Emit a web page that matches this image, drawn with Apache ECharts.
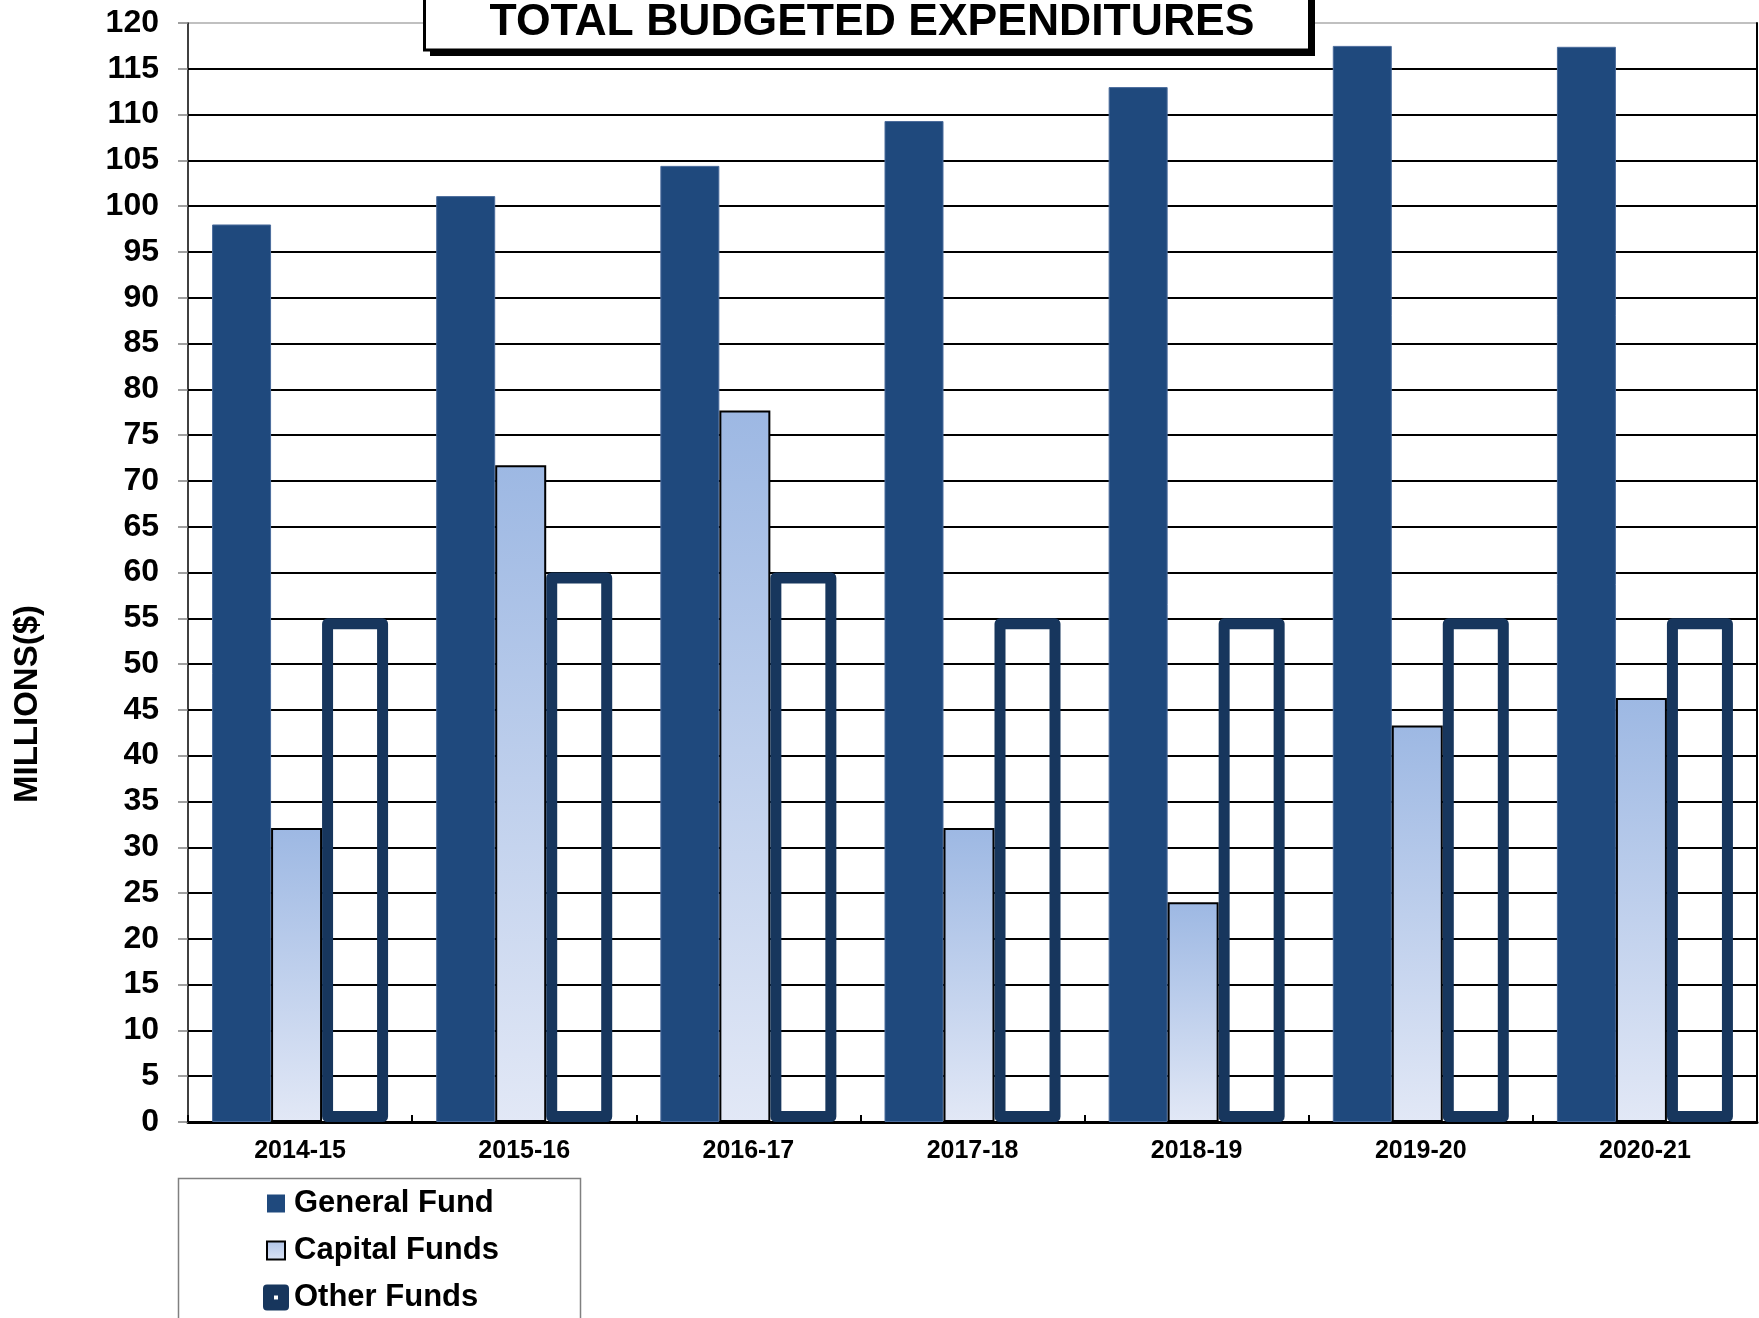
<!DOCTYPE html>
<html>
<head>
<meta charset="utf-8">
<script src="https://cdn.jsdelivr.net/npm/echarts@6/dist/echarts.min.js"></script>
<style>
html,body{margin:0;padding:0;background:#fff;}
#chart{width:1759px;height:1318px;}
</style>
</head>
<body>
<div id="chart"></div>
<script>
// ---- data ----
var categories = ['2014-15', '2015-16', '2016-17', '2017-18', '2018-19', '2019-20', '2020-21'];
var generalFund = [98.0, 101.1, 104.4, 109.3, 113.0, 117.5, 117.4];
var capitalFunds = [32.1, 71.7, 77.7, 32.1, 24.0, 43.3, 46.3];
var otherFunds = [55, 60, 60, 55, 55, 55, 55];
var seriesNames = ['General Fund', 'Capital Funds', 'Other Funds'];
var titleText = 'TOTAL BUDGETED EXPENDITURES';
var yAxisTitle = 'MILLIONS($)';
var yMin = 0, yMax = 120, yStep = 5;

var FONT = '"Liberation Sans", Arial, Helvetica, sans-serif';
var gridColors = [];
for (var v = yMin; v <= yMax; v += yStep) gridColors.push(v === yMax ? '#c0c0c0' : '#000000');

var capGradient = new echarts.graphic.LinearGradient(0, 0, 0, 1, [
  {offset: 0, color: '#9db8e3'},
  {offset: 1, color: '#e2e8f6'}
]);
var capGradientIcon = new echarts.graphic.LinearGradient(0, 0, 0, 1, [
  {offset: 0, color: '#a8bfe6'},
  {offset: 1, color: '#e2e8f6'}
]);

var chart = echarts.init(document.getElementById('chart'), null, {renderer: 'canvas'});
var option = {
  backgroundColor: '#ffffff',
  animation: false,
  textStyle: {fontFamily: FONT},
  grid: {left: 188, right: 2, top: 23, bottom: 196, containLabel: false},
  legend: {
    orient: 'vertical',
    left: 262,
    top: 1188,
    height: 200,
    padding: 0,
    itemWidth: 26,
    itemHeight: 26,
    itemGap: 16,
    selectedMode: false,
    textStyle: {fontSize: 31, fontWeight: 'bold', color: '#000', fontFamily: FONT, lineHeight: 30},
    data: [
      {name: seriesNames[0], icon: 'path://M0,0M26,26M4,4L22,4L22,22L4,22Z',
        itemStyle: {color: '#1f497d', borderWidth: 0}},
      {name: seriesNames[1], icon: 'path://M0,0M26,26M4,4L22,4L22,22L4,22Z',
        itemStyle: {color: capGradientIcon, borderColor: '#000', borderWidth: 2}},
      {name: seriesNames[2], icon: 'path://M4,0L22,0Q26,0 26,4L26,22Q26,26 22,26L4,26Q0,26 0,22L0,4Q0,0 4,0ZM11,11L11,15L15,15L15,11Z',
        itemStyle: {color: '#17365d', borderWidth: 0}}
    ]
  },
  xAxis: {
    type: 'category',
    data: categories,
    axisLine: {show: true, lineStyle: {color: '#000', width: 3}},
    axisTick: {show: true, inside: true, length: 7, lineStyle: {color: '#000', width: 2}},
    axisLabel: {fontSize: 25, fontWeight: 'bold', color: '#000', margin: 17, fontFamily: FONT},
    splitLine: {show: false}
  },
  yAxis: [{
    type: 'value',
    min: yMin,
    max: yMax,
    interval: yStep,
    axisLine: {show: true, lineStyle: {color: '#000', width: 1.5}},
    axisTick: {show: true, inside: false, length: 10, lineStyle: {color: '#808080', width: 1.5}},
    axisLabel: {fontSize: 32, fontWeight: 'bold', color: '#000', margin: 29, fontFamily: FONT},
    splitLine: {show: true, lineStyle: {color: gridColors, width: 2}}
  }, {
    type: 'value',
    position: 'right',
    min: yMin,
    max: yMax,
    interval: yStep,
    axisLine: {show: true, lineStyle: {color: '#000', width: 2}},
    axisTick: {show: false},
    axisLabel: {show: false},
    splitLine: {show: false}
  }],
  series: [
    {
      name: seriesNames[0], type: 'bar', data: generalFund,
      barWidth: 59, barGap: '0%',
      itemStyle: {color: '#1f497d', borderColor: '#4b6c9c', borderWidth: 1}
    },
    {
      name: seriesNames[1], type: 'bar', data: capitalFunds,
      barWidth: 51, barGap: '0%',
      itemStyle: {color: capGradient, borderColor: '#000', borderWidth: 2}
    },
    {
      name: seriesNames[2], type: 'bar', data: otherFunds,
      barWidth: 66, barGap: '0%',
      itemStyle: {color: 'rgba(0,0,0,0)', borderColor: '#17365d', borderWidth: 11, borderJoin: 'round'}
    }
  ],
  graphic: [
    {type: 'rect', z: 100, shape: {x: 430, y: -20, width: 885, height: 76}, style: {fill: '#000'}},
    {type: 'rect', z: 101, shape: {x: 424.5, y: -20, width: 885, height: 70}, style: {fill: '#fff', stroke: '#000', lineWidth: 3}},
    {type: 'text', z: 102, x: 872, y: 23, style: {text: titleText, font: 'bold 44.5px ' + FONT, fill: '#000', textAlign: 'center', textVerticalAlign: 'middle'}},
    {type: 'text', z: 50, x: 28, y: 704, rotation: Math.PI / 2, style: {text: yAxisTitle, font: 'bold 33px ' + FONT, fill: '#000', textAlign: 'center', textVerticalAlign: 'middle'}},
    {type: 'rect', z: 1, shape: {x: 178.5, y: 1178.5, width: 402, height: 200}, style: {fill: '#fff', stroke: '#808080', lineWidth: 1.5}}
  ]
};
chart.setOption(option);
</script>
</body>
</html>
